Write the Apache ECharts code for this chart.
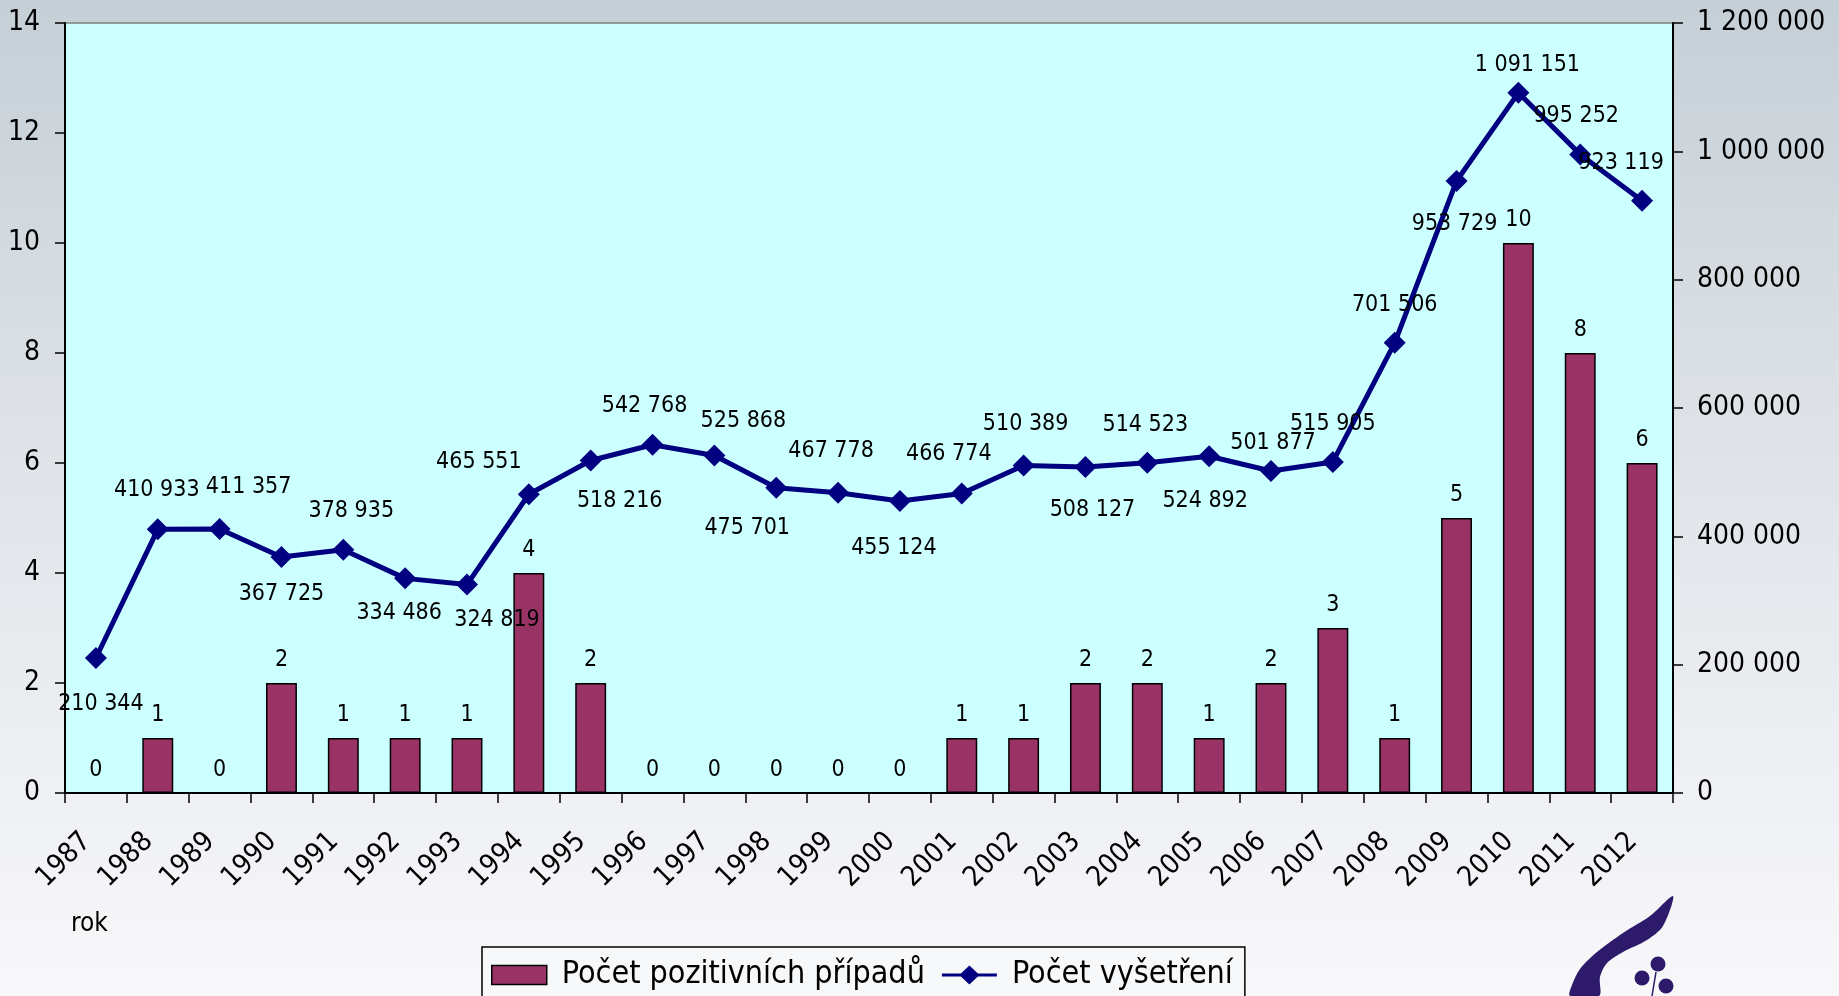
<!DOCTYPE html>
<html>
<head>
<meta charset="utf-8">
<title>Počet vyšetření</title>
<script src="https://cdn.jsdelivr.net/npm/echarts@6/dist/echarts.min.js"></script>
<style>
  html, body { margin: 0; padding: 0; }
  #chart { width: 1839px; height: 996px; }
</style>
</head>
<body>
<div id="chart"></div>
<script>
// data
var years = ["1987", "1988", "1989", "1990", "1991", "1992", "1993", "1994", "1995", "1996",
  "1997", "1998", "1999", "2000", "2001", "2002", "2003", "2004", "2005", "2006",
  "2007", "2008", "2009", "2010", "2011", "2012"];
var positiveCases = [0, 1, 0, 2, 1, 1, 1, 4, 2, 0, 0, 0, 0, 0, 1, 1, 2, 2, 1, 2, 3, 1, 5, 10, 8, 6];
var examinations = [210344, 410933, 411357, 367725, 378935, 334486, 324819, 465551, 518216, 542768,
  525868, 475701, 467778, 455124, 466774, 510389, 508127, 514523, 524892, 501877,
  515905, 701506, 953729, 1091151, 995252, 923119];

// label placement of the line labels (moved by hand in the original)
var lineLabelOffsets = [[5, 46], [-1, -39], [29, -42], [0, 37], [8, -39], [-6, 35], [30, 35],
  [-50, -32], [29, 41], [-8, -39], [29, -35], [-29, 40], [-7, -42], [-6, 47], [-13, -39],
  [2, -41], [7, 43], [-2, -38], [-4, 45], [2, -28], [0, -38], [0, -38], [-2, 43],
  [9, -28], [-4, -38], [-21, -38]];

var FONT = '"DejaVu Sans Condensed", "DejaVu Sans", sans-serif';
var LOGO = "#2d1a6b";
// legend icon: thick line with a diamond in the middle
var LINE_ICON = "path://M0,8 L19,8 L27.5,0 L36,8 L55,8 L55,11 L36,11 L27.5,19 L19,11 L0,11 Z";

function fmt(v) {
  return String(v).replace(/\B(?=(\d{3})+(?!\d))/g, " ");
}

var myChart = echarts.init(document.getElementById("chart"));

var option = {
  backgroundColor: new echarts.graphic.LinearGradient(0, 0, 0, 1, [
    { offset: 0, color: "#c5cfd6" },
    { offset: 0.45, color: "#dfe3e8" },
    { offset: 1, color: "#f8f8fa" }
  ]),
  textStyle: { fontFamily: FONT },
  animation: false,
  grid: {
    left: 65,
    right: 166,
    top: 23,
    bottom: 203,
    show: true,
    backgroundColor: "#ccffff",
    borderColor: "#808080",
    borderWidth: 1.5
  },
  legend: {
    left: 482,
    top: 947,
    itemWidth: 55,
    itemHeight: 19,
    itemGap: 17,
    padding: [12, 12, 30, 9],
    borderColor: "#000",
    borderWidth: 1.5,
    backgroundColor: "#f7f8f9",
    textStyle: { fontSize: 32, color: "#000", fontFamily: FONT, padding: [0, 0, 0, 10] },
    data: [
      { name: "Počet pozitivních případů", icon: "rect", itemStyle: { borderColor: "#000", borderWidth: 1.5 } },
      { name: "Počet vyšetření", icon: LINE_ICON, itemStyle: { borderWidth: 0 } }
    ]
  },
  xAxis: {
    type: "category",
    data: years,
    axisLine: { lineStyle: { color: "#000", width: 2 } },
    axisTick: { show: true, length: 10, lineStyle: { color: "#000", width: 1.5 } },
    axisLabel: {
      rotate: 45,
      margin: 35,
      padding: [0, 13, 0, 0],
      interval: 0,
      fontSize: 28,
      color: "#000",
      fontFamily: FONT
    }
  },
  yAxis: [
    {
      type: "value",
      min: 0,
      max: 14,
      interval: 2,
      splitLine: { show: false },
      axisLine: { show: true, lineStyle: { color: "#000", width: 2 } },
      axisTick: { show: true, length: 10, lineStyle: { color: "#000", width: 1.5 } },
      axisLabel: { margin: 25, fontSize: 28, color: "#000", fontFamily: FONT }
    },
    {
      type: "value",
      min: 0,
      max: 1200000,
      interval: 200000,
      splitLine: { show: false },
      axisLine: { show: true, lineStyle: { color: "#000", width: 2 } },
      axisTick: { show: true, length: 10, lineStyle: { color: "#000", width: 1.5 } },
      axisLabel: {
        margin: 24,
        fontSize: 28,
        color: "#000",
        fontFamily: FONT,
        formatter: fmt
      }
    }
  ],
  series: [
    {
      name: "Počet pozitivních případů",
      type: "bar",
      barWidth: "50%",
      data: positiveCases,
      itemStyle: { color: "#993366", borderColor: "#000", borderWidth: 1.5 },
      label: {
        show: true,
        position: "top",
        distance: 11,
        fontSize: 23,
        color: "#000",
        fontFamily: FONT
      }
    },
    {
      name: "Počet vyšetření",
      type: "line",
      yAxisIndex: 1,
      symbol: "diamond",
      symbolSize: 22,
      z: 3,
      data: examinations.map(function (v, i) {
        return { value: v, label: { offset: lineLabelOffsets[i] } };
      }),
      itemStyle: { color: "#000080" },
      lineStyle: { color: "#000080", width: 5 },
      label: {
        show: true,
        position: "inside",
        align: "center",
        verticalAlign: "middle",
        fontSize: 23,
        color: "#000",
        fontFamily: FONT,
        formatter: function (p) { return fmt(p.value); }
      }
    }
  ],
  graphic: [
    // x axis title
    {
      type: "text",
      left: 71,
      top: 911,
      style: { text: "rok", fontSize: 26, fill: "#000", fontFamily: FONT }
    },
    // logo in the corner
    {
      type: "polygon",
      shape: {
        points: [[1673, 896], [1663, 926], [1647, 940], [1623, 952], [1607, 963], [1600, 977], [1599, 996],
          [1570, 996], [1572, 985], [1580, 969], [1597, 952], [1623, 933], [1650, 916]],
        smooth: 0.3
      },
      style: { fill: LOGO }
    },
    { type: "circle", shape: { cx: 1658, cy: 964, r: 7.5 }, style: { fill: LOGO } },
    { type: "circle", shape: { cx: 1642, cy: 978, r: 7.5 }, style: { fill: LOGO } },
    { type: "circle", shape: { cx: 1666, cy: 986, r: 7.5 }, style: { fill: LOGO } },
    {
      type: "line",
      shape: { x1: 1656, y1: 972, x2: 1652, y2: 996 },
      style: { stroke: LOGO, lineWidth: 1.5 }
    }
  ]
};

myChart.setOption(option);
</script>
</body>
</html>
